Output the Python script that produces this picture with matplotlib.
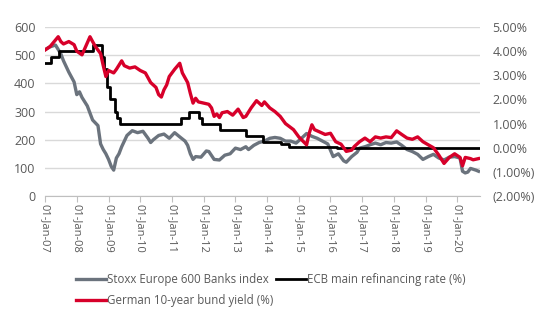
import pandas as pd
import matplotlib.pyplot as plt
import matplotlib.dates as mdates
from matplotlib.ticker import FuncFormatter

# Stoxx Europe 600 Banks index (left axis)
stoxx_dates = ["2007-01", "2007-03", "2007-05", "2007-07", "2007-08", "2007-10", "2007-12",
               "2008-01", "2008-02", "2008-03", "2008-05", "2008-07", "2008-09", "2008-10",
               "2008-11", "2008-12", "2009-01", "2009-02", "2009-03", "2009-04", "2009-05",
               "2009-06", "2009-08", "2009-10", "2009-12", "2010-02", "2010-04", "2010-05",
               "2010-06", "2010-08", "2010-10", "2010-12", "2011-02", "2011-04", "2011-06",
               "2011-07", "2011-08", "2011-09", "2011-10", "2011-12", "2012-02", "2012-03",
               "2012-05", "2012-07", "2012-09", "2012-11", "2013-01", "2013-03", "2013-05",
               "2013-06", "2013-08", "2013-10", "2013-12", "2014-02", "2014-04", "2014-06",
               "2014-08", "2014-10", "2014-12", "2015-02", "2015-04", "2015-06", "2015-08",
               "2015-10", "2015-12", "2016-02", "2016-04", "2016-06", "2016-07", "2016-09",
               "2016-11", "2016-12", "2017-02", "2017-04", "2017-06", "2017-08", "2017-10",
               "2017-12", "2018-02", "2018-04", "2018-06", "2018-08", "2018-10", "2018-12",
               "2019-02", "2019-04", "2019-06", "2019-08", "2019-10", "2019-12", "2020-02",
               "2020-03", "2020-04", "2020-05", "2020-06", "2020-08", "2020-09"]
stoxx_values = [520, 530, 536, 505, 480, 440, 405,
                360, 370, 350, 320, 270, 250, 185,
                165, 150, 130, 105, 92, 135, 150,
                175, 215, 232, 225, 230, 205, 190,
                200, 215, 220, 205, 225, 210, 195,
                180, 150, 130, 140, 138, 160, 158,
                130, 128, 145, 150, 170, 165, 175,
                165, 180, 190, 195, 205, 208, 205,
                195, 195, 188, 205, 222, 212, 205,
                195, 185, 140, 150, 125, 120, 140,
                155, 170, 175, 182, 188, 182, 190,
                188, 192, 180, 165, 158, 148, 130,
                140, 148, 135, 128, 138, 140, 135,
                88, 82, 85, 98, 92, 88]

# German 10-year bund yield, % (right axis)
bund_dates = ["2007-01", "2007-03", "2007-06", "2007-07", "2007-08", "2007-10", "2007-12",
              "2008-01", "2008-03", "2008-04", "2008-06", "2008-07", "2008-08", "2008-10",
              "2008-11", "2008-12", "2009-01", "2009-03", "2009-04", "2009-06", "2009-07",
              "2009-09", "2009-11", "2010-01", "2010-03", "2010-05", "2010-07", "2010-08",
              "2010-09", "2010-10", "2010-11", "2010-12", "2011-02", "2011-04", "2011-05",
              "2011-07", "2011-08", "2011-09", "2011-10", "2011-11", "2012-01", "2012-03",
              "2012-04", "2012-05", "2012-06", "2012-07", "2012-08", "2012-10", "2012-12",
              "2013-02", "2013-04", "2013-05", "2013-07", "2013-09", "2013-11", "2013-12",
              "2014-02", "2014-04", "2014-06", "2014-08", "2014-11", "2015-01", "2015-04",
              "2015-05", "2015-06", "2015-07", "2015-09", "2015-11", "2016-01", "2016-03",
              "2016-05", "2016-07", "2016-09", "2016-10", "2016-12", "2017-02", "2017-04",
              "2017-06", "2017-08", "2017-10", "2017-12", "2018-02", "2018-04", "2018-06",
              "2018-08", "2018-10", "2018-12", "2019-02", "2019-04", "2019-06", "2019-08",
              "2019-10", "2019-12", "2020-02", "2020-03", "2020-04", "2020-06", "2020-07",
              "2020-09"]
bund_values = [4.05, 4.2, 4.6, 4.4, 4.3, 4.4, 4.27,
               4.0, 3.85, 4.1, 4.6, 4.4, 4.2, 3.9,
               3.4, 2.95, 3.2, 3.1, 3.25, 3.6, 3.4,
               3.3, 3.35, 3.2, 3.1, 2.7, 2.5, 2.2,
               2.1, 2.4, 2.6, 2.95, 3.25, 3.5, 3.1,
               2.7, 2.25, 1.85, 2.05, 1.9, 1.85, 1.8,
               1.65, 1.3, 1.4, 1.25, 1.45, 1.5, 1.35,
               1.6, 1.25, 1.3, 1.65, 1.95, 1.75, 1.9,
               1.65, 1.5, 1.3, 1.0, 0.75, 0.45, 0.12,
               0.6, 0.95, 0.75, 0.65, 0.55, 0.6, 0.25,
               0.15, -0.15, -0.1, 0.05, 0.25, 0.4, 0.25,
               0.45, 0.4, 0.45, 0.42, 0.7, 0.55, 0.4,
               0.35, 0.45, 0.25, 0.12, 0.0, -0.3, -0.65,
               -0.4, -0.25, -0.4, -0.75, -0.4, -0.45, -0.5,
               -0.45]

# ECB main refinancing rate, % (right axis, step changes)
ecb_dates = ["2007-01-01", "2007-03-14", "2007-06-13", "2008-07-09", "2008-10-15",
             "2008-11-12", "2008-12-10", "2009-01-21", "2009-03-11", "2009-04-08",
             "2009-05-13", "2011-04-13", "2011-07-13", "2011-11-09", "2011-12-14",
             "2012-07-11", "2013-05-08", "2013-11-13", "2014-06-11", "2014-09-10",
             "2016-03-16", "2020-09-20"]
ecb_values = [3.5, 3.75, 4.0, 4.25, 3.75,
              3.25, 2.5, 2.0, 1.5, 1.25,
              1.0, 1.25, 1.5, 1.25, 1.0,
              0.75, 0.5, 0.25, 0.15, 0.05,
              0.0, 0.0]

year_ticks = pd.date_range("2007-01-01", "2020-01-01", freq="YS")

GRAY = "#6b737d"
RED = "#d7002a"
TEXT = "#595959"

plt.rcParams['font.family'] = ['Open Sans', 'DejaVu Sans']

fig = plt.figure(figsize=(5.5, 3.3), dpi=100)
ax = fig.add_axes([0.082, 0.406, 0.791, 0.512])
ax2 = ax.twinx()

ax.plot(pd.to_datetime(stoxx_dates), stoxx_values, color=GRAY, lw=2.4,
        label="Stoxx Europe 600 Banks index", zorder=3)
ax2.plot(pd.to_datetime(ecb_dates), ecb_values, color="black", lw=2.0,
         drawstyle="steps-post", label="ECB main refinancing rate (%)", zorder=3)
ax2.plot(pd.to_datetime(bund_dates), bund_values, color=RED, lw=2.4,
         label="German 10-year bund yield (%)", zorder=4)

ax.set_ylim(0, 600)
ax.set_yticks(range(0, 700, 100))
ax2.set_ylim(-2, 5)
ax2.set_yticks(range(-2, 6))
ax.set_xlim(pd.Timestamp("2007-01-01"), pd.Timestamp("2020-09-20"))

ax.yaxis.grid(True, color="#d9d9d9", lw=1.0)
ax.set_axisbelow(True)

for a in (ax, ax2):
    for s in a.spines.values():
        s.set_visible(False)
ax.spines['bottom'].set_visible(True)
ax.spines['bottom'].set_color("#bfbfbf")

ax.set_xticks(year_ticks)
ax.xaxis.set_major_formatter(mdates.DateFormatter("%d-%b-%y"))
ax.tick_params(axis='x', rotation=-90, colors="#bfbfbf", labelcolor=TEXT,
               labelsize=8, length=4, pad=2)
ax.tick_params(axis='y', length=0, labelsize=9, labelcolor=TEXT, pad=7)


def pct(v, _):
    if v < 0:
        return f"({abs(v):.2f}%)"
    return f"{v:.2f}%"


ax2.yaxis.set_major_formatter(FuncFormatter(pct))
ax2.tick_params(axis='y', length=0, labelsize=9, labelcolor=TEXT, pad=9)

h1, l1 = ax.get_legend_handles_labels()
h2, l2 = ax2.get_legend_handles_labels()
handles = [h1[0], h2[1], h2[0]]
labels = [l1[0], l2[1], l2[0]]
fig.legend(handles, labels, ncol=2, loc="upper left", bbox_to_anchor=(0.138, 0.172),
           frameon=False, fontsize=8.3, labelcolor=TEXT, handlelength=2.6,
           handletextpad=0.1, columnspacing=0.2, labelspacing=0.7,
           borderpad=0, borderaxespad=0)

fig.savefig("out.png", dpi=100)
